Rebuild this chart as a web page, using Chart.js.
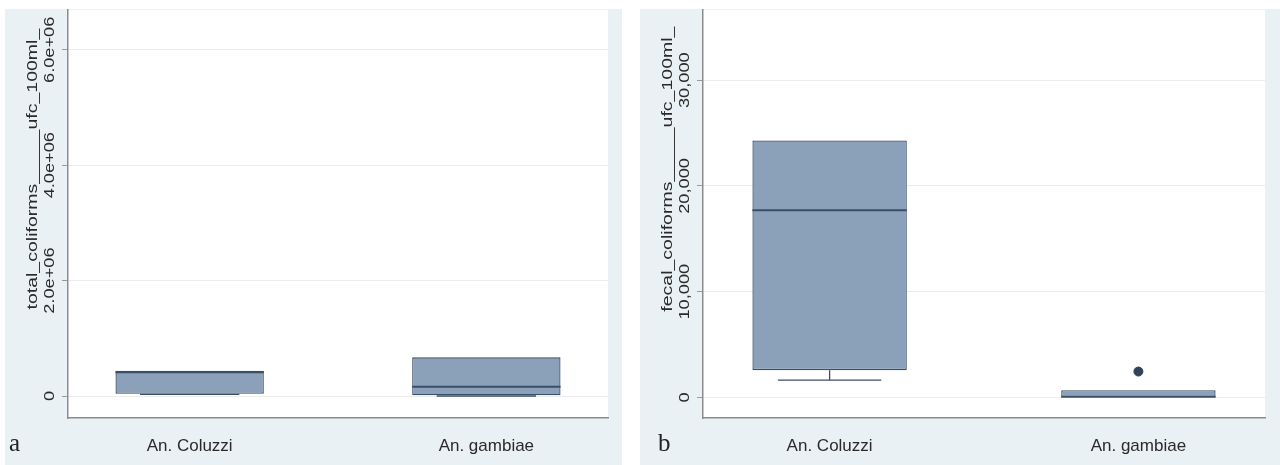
<!DOCTYPE html>
<html>
<head>
<meta charset="utf-8">
<script src="https://cdn.jsdelivr.net/npm/chart.js@4.4.1/dist/chart.umd.min.js"></script>
<style>
body { margin: 0; background: #fff; width: 1280px; height: 465px; position: relative; overflow: hidden; }
.panel { position: absolute; top: 9px; height: 456px; background: #e9f1f4; }
#panelA { left: 5px; width: 617px; }
#panelB { left: 640px; width: 640px; }
</style>
</head>
<body>
<div class="panel" id="panelA"><canvas id="chartA"></canvas></div>
<div class="panel" id="panelB"><canvas id="chartB"></canvas></div>
<script>
// categories
const categories = ['An. Coluzzi', 'An. gambiae'];

// panel a: total coliforms (q1, q3, median, whiskers)
const totalQ1 = [40000, 12000];
const totalQ3 = [440000, 670000];
const totalMedian = [410000, 160000];
const totalLow = [30000, 0];
const totalHigh = [440000, 670000];
const totalTicks = [0, 2000000, 4000000, 6000000];
const totalTickLabels = ['0', '2.0e+06', '4.0e+06', '6.0e+06'];

// panel b: fecal coliforms
const fecalQ1 = [2580, 0];
const fecalQ3 = [24300, 680];
const fecalMedian = [17700, 60];
const fecalLow = [1630, 0];
const fecalHigh = [24300, 680];
const fecalOutliers = [{ x: 1, y: 2450 }];
const fecalTicks = [0, 10000, 20000, 30000];
const fecalTickLabels = ['0', '10,000', '20,000', '30,000'];

const boxFill = '#8aa1b9';
const boxLine = '#3a4f67';

// medians, whiskers, white plot region and rotated y labels
const boxParts = {
    id: 'boxParts',
    beforeDraw(chart) {
        const a = chart.chartArea, ctx = chart.ctx;
        ctx.save();
        ctx.fillStyle = '#ffffff';
        ctx.fillRect(a.left, a.top, a.right - a.left, a.bottom - a.top);
        ctx.restore();
    },
    afterDatasetsDraw(chart, args, o) {
        const x = chart.scales.x, y = chart.scales.y, ctx = chart.ctx;
        const half = (x.getPixelForValue(1) - x.getPixelForValue(0)) * 0.25;
        const cap = half * 0.67;
        ctx.save();
        ctx.strokeStyle = boxLine;
        o.median.forEach((m, i) => {
            const cx = x.getPixelForValue(i);
            ctx.lineWidth = 2;
            ctx.beginPath();
            ctx.moveTo(cx - half, y.getPixelForValue(m));
            ctx.lineTo(cx + half, y.getPixelForValue(m));
            ctx.stroke();
            ctx.lineWidth = 1.3;
            [[o.low[i], o.q1[i]], [o.high[i], o.q3[i]]].forEach(([w, edge]) => {
                if (w === edge) return;
                ctx.beginPath();
                ctx.moveTo(cx, y.getPixelForValue(edge));
                ctx.lineTo(cx, y.getPixelForValue(w));
                ctx.moveTo(cx - cap, y.getPixelForValue(w));
                ctx.lineTo(cx + cap, y.getPixelForValue(w));
                ctx.stroke();
            });
        });
        ctx.restore();
    },
    afterDraw(chart, args, o) {
        const y = chart.scales.y, a = chart.chartArea, ctx = chart.ctx;
        const drawUp = (text, px, py, size) => {
            ctx.save();
            ctx.translate(px, py);
            ctx.rotate(-Math.PI / 2);
            ctx.scale(1.3, 1);
            ctx.font = size + 'px "Liberation Sans", Arial, sans-serif';
            ctx.fillStyle = '#2a2a2a';
            ctx.textAlign = 'center';
            ctx.textBaseline = 'middle';
            ctx.fillText(text, 0, 0);
            ctx.restore();
        };
        o.ticks.forEach((t, i) => drawUp(o.tickLabels[i], a.left - 18, y.getPixelForValue(t), 14));
        drawUp(o.title, a.left - 35, a.top + (a.bottom - a.top) * 0.39, 15);
        ctx.save();
        ctx.font = '25px "Liberation Serif", "Times New Roman", serif';
        ctx.fillStyle = '#222';
        ctx.textBaseline = 'alphabetic';
        ctx.fillText(o.letter, o.letterX, chart.height - 14);
        ctx.restore();
    }
};

function makeChart(id, q1, q3, med, low, high, outliers, ticks, tickLabels, yMin, yMax, axisW, padRight, title, letter, letterX) {
    const ctx = document.getElementById(id).getContext('2d');
    return new Chart(ctx, {
        type: 'bar',
        data: {
            datasets: [{
                label: 'box',
                data: categories.map((c, i) => ({ x: i, y: [q1[i], q3[i]] })),
                backgroundColor: boxFill,
                borderColor: boxLine,
                borderWidth: 1.3,
                borderSkipped: false,
                barPercentage: 0.5,
                categoryPercentage: 1
            }, {
                type: 'scatter',
                label: 'outliers',
                data: outliers,
                pointRadius: 4.5,
                backgroundColor: '#2f4358',
                borderColor: '#2f4358'
            }]
        },
        options: {
            responsive: true,
            maintainAspectRatio: false,
            animation: false,
            layout: { autoPadding: false, padding: { left: 0, right: padRight, top: 1, bottom: 0 } },
            plugins: {
                legend: { display: false },
                tooltip: { enabled: false },
                boxParts: { q1: q1, q3: q3, median: med, low: low, high: high, ticks: ticks, tickLabels: tickLabels, title: title, letter: letter, letterX: letterX }
            },
            scales: {
                x: {
                    type: 'linear',
                    offset: false,
                    min: -0.41,
                    max: 1.41,
                    afterBuildTicks: s => { s.ticks = categories.map((c, i) => ({ value: i })); },
                    afterFit: s => { s.height = 47; },
                    ticks: {
                        callback: v => categories[v],
                        font: { family: '"Liberation Sans Narrow", "Liberation Sans", sans-serif', size: 17 },
                        color: '#2a2a2a',
                        padding: 10,
                        maxRotation: 0
                    },
                    grid: { display: false, offset: false },
                    border: { color: '#8c8c8c', width: 1.5 }
                },
                y: {
                    min: yMin,
                    max: yMax,
                    afterBuildTicks: s => { s.ticks = ticks.map(v => ({ value: v })); },
                    afterFit: s => { s.width = axisW; },
                    ticks: { display: false },
                    grid: { color: '#ececec', lineWidth: 1, tickLength: 6, tickColor: '#9a9a9a' },
                    border: { color: '#8c8c8c', width: 1.5 }
                }
            }
        },
        plugins: [boxParts]
    });
}

makeChart('chartA', totalQ1, totalQ3, totalMedian, totalLow, totalHigh, [], totalTicks, totalTickLabels,
    -381000, 6690000, 63, 14, 'total_coliforms_____ufc_100ml_', 'a', 4);
makeChart('chartB', fecalQ1, fecalQ3, fecalMedian, fecalLow, fecalHigh, fecalOutliers, fecalTicks, fecalTickLabels,
    -1943, 36635, 63, 15, 'fecal_coliforms_____ufc_100ml_', 'b', 18);
</script>
</body>
</html>
